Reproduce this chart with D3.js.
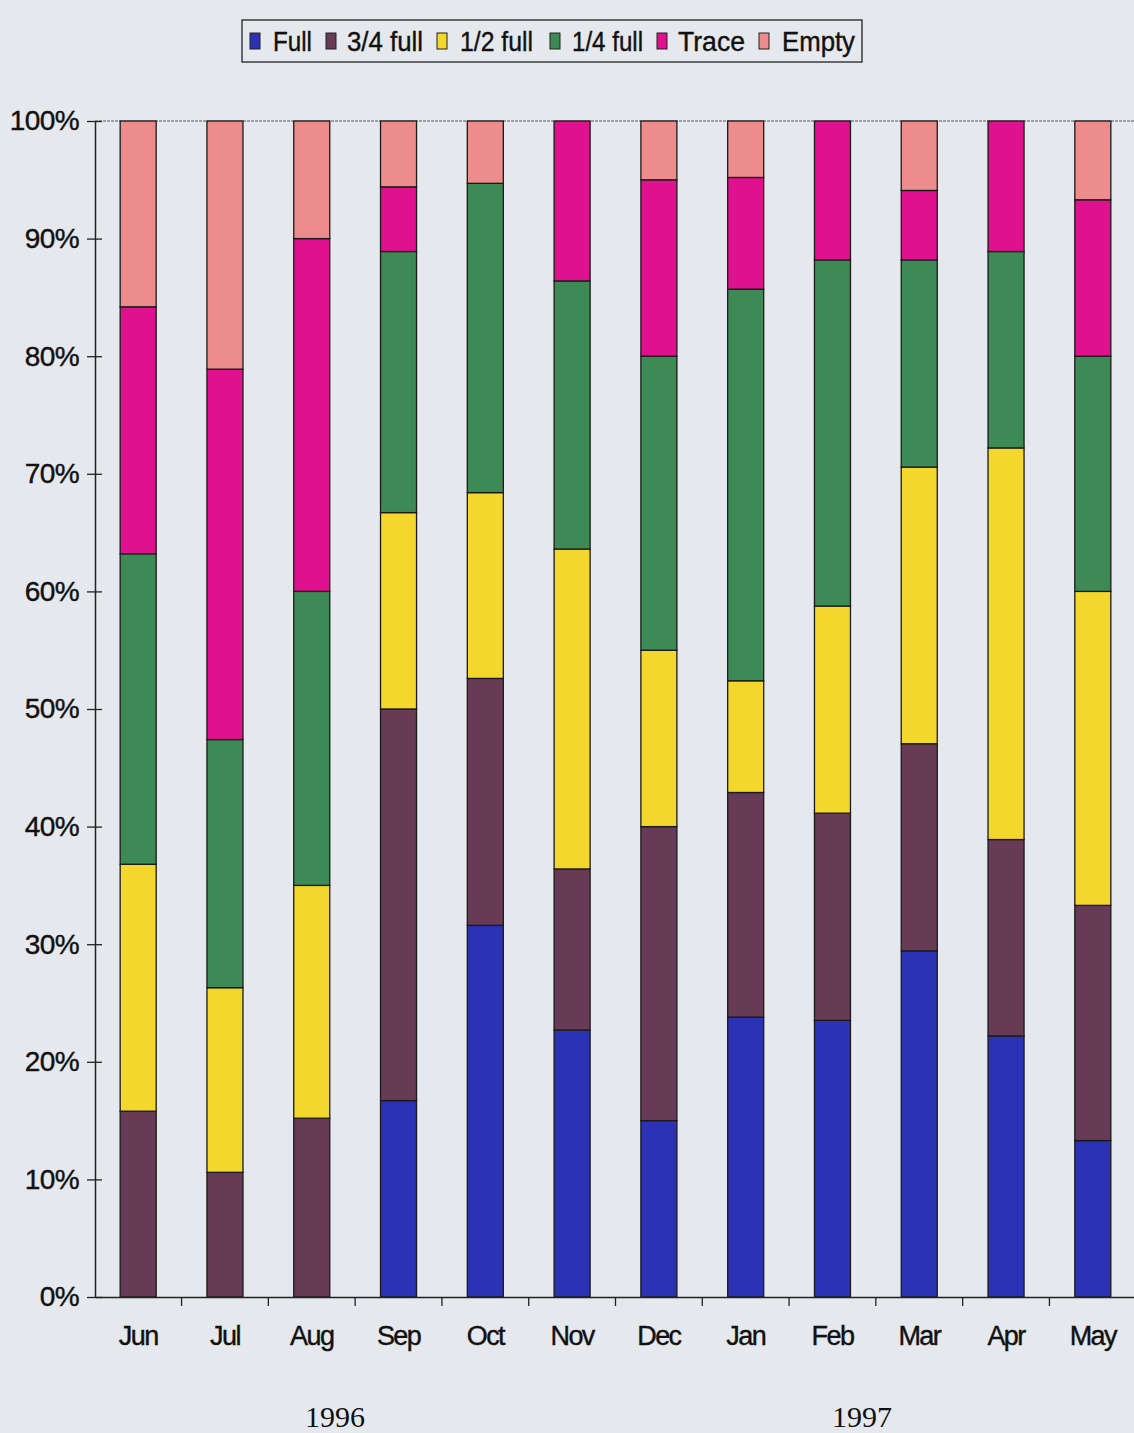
<!DOCTYPE html>
<html><head><meta charset="utf-8">
<script src="https://cdn.jsdelivr.net/npm/d3@7"></script>
<style>
html,body{margin:0;padding:0;background:#e5e8ec;}
svg{display:block;}
text{font-family:"Liberation Sans",Arial,sans-serif;}
</style></head>
<body>
<script>
const months = ["Jun","Jul","Aug","Sep","Oct","Nov","Dec","Jan","Feb","Mar","Apr","May"];
const seriesNames = ["Full","3/4 full","1/2 full","1/4 full","Trace","Empty"];
const full     = [0,    0,    0,    16.7, 31.6, 22.7, 15.0, 23.8, 23.5, 29.4, 22.2, 13.3];
const threeQ   = [15.8, 10.6, 15.2, 33.3, 21.0, 13.7, 25.0, 19.1, 17.6, 17.6, 16.7, 20.0];
const half     = [21.0, 15.7, 19.8, 16.7, 15.8, 27.2, 15.0, 9.5,  17.6, 23.5, 33.3, 26.7];
const quarter  = [26.4, 21.1, 25.0, 22.2, 26.3, 22.8, 25.0, 33.3, 29.4, 17.6, 16.7, 20.0];
const trace    = [21.0, 31.5, 30.0, 5.5,  0,    13.6, 15.0, 9.5,  11.8, 5.9,  11.1, 13.3];
const empty    = [15.8, 21.1, 10.0, 5.6,  5.3,  0,    5.0,  4.8,  0,    5.9,  0,    6.7];
const yTicks = [0,10,20,30,40,50,60,70,80,90,100];
const years = ["1996","1997"];
const colors = ["#2b33b4","#673a55","#f3d72c","#3e8a56","#e0118e","#ec8c8c"];

const W = 1134, H = 1433;
const svg = d3.select("body").append("svg").attr("width",W).attr("height",H);

const x = d3.scaleBand().domain(months).range([95, 1136]).paddingInner(0.585).paddingOuter(0.29);
const y = d3.scaleLinear().domain([0,100]).range([1297, 121]);

const table = months.map((m,i)=>({month:m, "Full":full[i], "3/4 full":threeQ[i], "1/2 full":half[i], "1/4 full":quarter[i], "Trace":trace[i], "Empty":empty[i]}));
const stack = d3.stack().keys(seriesNames).offset(d3.stackOffsetExpand)(table);

svg.append("line").attr("x1",95).attr("x2",W).attr("y1",y(100)).attr("y2",y(100))
  .attr("stroke","#555").attr("stroke-width",1).attr("stroke-dasharray","3,1");

const g = svg.append("g");
stack.forEach((s,si)=>{
  g.selectAll(null).data(s).enter().append("rect")
    .attr("x", d=>x(d.data.month))
    .attr("width", x.bandwidth())
    .attr("y", d=>y(d[1]*100))
    .attr("height", d=>Math.max(0, y(d[0]*100)-y(d[1]*100)))
    .attr("fill", colors[si])
    .attr("stroke","#1a1a1a").attr("stroke-width",1.3);
});

const txtStroke = sel => sel.attr("stroke","#111").attr("stroke-width",0.4);

// y axis
const yAxis = d3.axisLeft(y).tickValues(yTicks).tickFormat(d=>d+"%").tickSize(0).tickPadding(16);
const ya = svg.append("g").attr("transform","translate(95,0)").call(yAxis);
ya.select(".domain").attr("stroke","#222").attr("stroke-width",1.5);
ya.selectAll(".tick text").attr("font-size",28).attr("fill","#111").attr("letter-spacing","-0.6px").call(txtStroke);
ya.selectAll(".tick").append("line").attr("x1",-8).attr("x2",7).attr("stroke","#222").attr("stroke-width",1.3);

// x axis
const xa = svg.append("g").attr("transform",`translate(0,${y(0)})`).call(d3.axisBottom(x).tickSize(0).tickPadding(29));
xa.select(".domain").attr("stroke","#222").attr("stroke-width",1.5);
xa.selectAll(".tick text").attr("font-size",27).attr("fill","#111").attr("letter-spacing","-1.6px").call(txtStroke);
const step = x.step();
months.forEach((m,i)=>{
  const bx = x(m) + x.bandwidth()/2 + step/2;
  xa.append("line").attr("x1",bx).attr("x2",bx).attr("y1",0).attr("y2",9).attr("stroke","#222").attr("stroke-width",1.3);
});

// year labels
const yearX = [335, 862];
years.forEach((lab,i)=>{
  svg.append("text").attr("x", yearX[i]).attr("y",1427)
    .attr("text-anchor","middle").style("font-family","'Liberation Serif',serif")
    .attr("font-size",30).attr("fill","#111").text(lab);
});

// legend
const lg = svg.append("g");
lg.append("rect").attr("x",242).attr("y",20).attr("width",620).attr("height",42)
  .attr("fill","none").attr("stroke","#222").attr("stroke-width",1.3);
const legSq = [250, 326, 437, 550, 657, 759];
const legTx = [273, 347, 460, 572, 678, 782];
const legLen = [39, 76, 73, 71, 67, 73];
seriesNames.forEach((n,i)=>{
  lg.append("rect").attr("x",legSq[i]).attr("y",33).attr("width",10).attr("height",16)
    .attr("fill",colors[i]).attr("stroke","#222").attr("stroke-width",1);
  lg.append("text").attr("x",legTx[i]).attr("y",51).attr("font-size",28)
    .attr("textLength",legLen[i]).attr("lengthAdjust","spacingAndGlyphs")
    .attr("fill","#111").call(txtStroke).text(n);
});
</script>
</body></html>
